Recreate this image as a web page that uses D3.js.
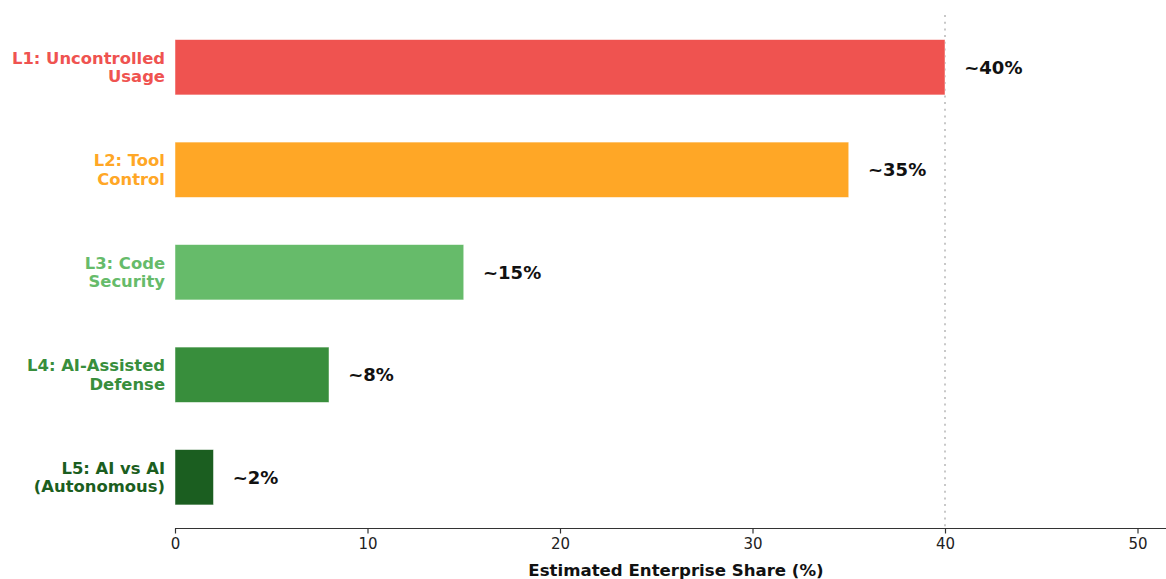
<!DOCTYPE html>
<html>
<head>
<meta charset="utf-8">
<script src="https://cdn.jsdelivr.net/npm/d3@7"></script>
<style>
  body { margin: 0; background: #fff; }
  svg { display: block; font-family: "DejaVu Sans", sans-serif; }
</style>
</head>
<body>
<div id="chart"></div>
<script>
const levels = [["L1: Uncontrolled", "Usage"], ["L2: Tool", "Control"], ["L3: Code", "Security"],
                ["L4: AI-Assisted", "Defense"], ["L5: AI vs AI", "(Autonomous)"]];
const shares = [40, 35, 15, 8, 2];
const colors = ["#EF5350", "#FFA726", "#66BB6A", "#388E3C", "#1B5E20"];
const xTicks = [0, 10, 20, 30, 40, 50];
const refLine = 40;

const width = 1166, height = 579;
const plot = {left: 175, top: 16, bottom: 528.5};

const x = d3.scaleLinear()
  .domain([0, 50])
  .range([plot.left, 1137.5]);

const y = d3.scaleBand()
  .domain(d3.range(levels.length))
  .range([plot.top, plot.bottom])
  .paddingInner(0.46)
  .paddingOuter(0.23);

const svg = d3.select("#chart").append("svg")
  .attr("width", width)
  .attr("height", height);

// reference line
svg.append("line")
  .attr("x1", x(refLine)).attr("x2", x(refLine))
  .attr("y1", plot.top - 1).attr("y2", plot.bottom)
  .attr("stroke", "#c8c8c8")
  .attr("stroke-width", 2)
  .attr("stroke-dasharray", "2,4.7");

// bars
svg.append("g").selectAll("rect")
  .data(shares)
  .enter().append("rect")
  .attr("x", x(0))
  .attr("y", (d, i) => y(i))
  .attr("width", d => x(d) - x(0))
  .attr("height", y.bandwidth())
  .attr("fill", (d, i) => colors[i])
  .attr("stroke", "#fff")
  .attr("stroke-opacity", 0.6)
  .attr("stroke-width", 0.8);

// value labels
svg.append("g").selectAll("text")
  .data(shares)
  .enter().append("text")
  .attr("x", d => x(d + 1))
  .attr("y", (d, i) => y(i) + y.bandwidth() / 2)
  .attr("dy", "0.35em")
  .attr("font-size", 18)
  .attr("font-weight", "bold")
  .attr("fill", "#111")
  .text(d => "~" + d + "%");

// category labels
const cat = svg.append("g").selectAll("text")
  .data(levels)
  .enter().append("text")
  .attr("text-anchor", "end")
  .attr("font-size", 16.4)
  .attr("font-weight", "bold")
  .attr("fill", (d, i) => colors[i])
  .attr("transform", (d, i) => "translate(" + (plot.left - 10) + "," + (y(i) + y.bandwidth() / 2) + ")");

cat.selectAll("tspan")
  .data(d => d)
  .enter().append("tspan")
  .attr("x", 0)
  .attr("y", (d, j) => (j - 0.5) * 19)
  .attr("dy", "0.35em")
  .text(d => d);

// x axis
const xAxis = svg.append("g")
  .attr("transform", "translate(0," + plot.bottom + ")")
  .call(d3.axisBottom(x).tickValues(xTicks).tickSize(5).tickPadding(5).tickSizeOuter(0));

xAxis.select(".domain")
  .attr("d", "M" + x(0) + ",0H" + width)
  .attr("stroke", "#333")
  .attr("stroke-width", 1.2);
xAxis.selectAll(".tick line").attr("stroke", "#333").attr("stroke-width", 1.2);
xAxis.selectAll(".tick text")
  .attr("font-family", "DejaVu Sans")
  .attr("font-size", 15)
  .attr("fill", "#222");

svg.append("text")
  .attr("x", 676)
  .attr("y", 576)
  .attr("text-anchor", "middle")
  .attr("font-size", 16.6)
  .attr("font-weight", "bold")
  .attr("fill", "#111")
  .text("Estimated Enterprise Share (%)");
</script>
</body>
</html>
